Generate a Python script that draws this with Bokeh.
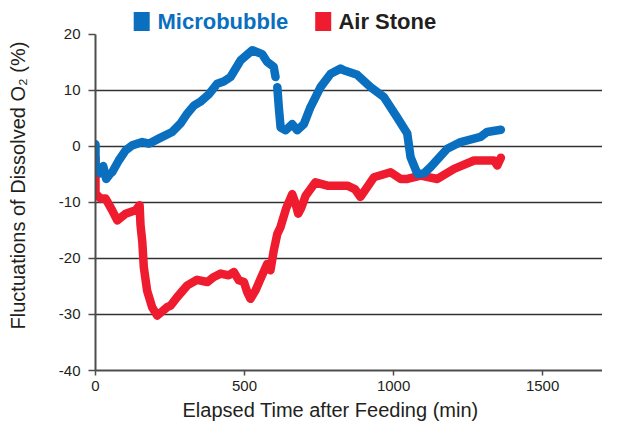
from bokeh.plotting import figure
from bokeh.models import FixedTicker, Title, PrintfTickFormatter
from bokeh.core.properties import value
from bokeh.embed import file_html
from bokeh.resources import INLINE

NaN = float("nan")

# Microbubble series (elapsed min, fluctuation %)
mb_time = [0, 0, 0, 5, 17, 26, 36, 50, 56, 78, 101, 123, 157, 179, 212, 257, 285, 308,
           330, 352, 380, 408, 430, 453, 487, 526, 559, 576, 598, 604, NaN,
           610, 615, 621, 638, 660, 677, 699, 721, 755, 789, 822, 833, 878, 923, 968,
           1012, 1046, 1057, 1080, 1102, 1124, 1180, 1225, 1292, 1314, 1360]
mb_value = [0.4, -1.6, -3.7, -4.2, -4.8, -3.5, -5.8, -4.8, -4.6, -2.5, -0.7, 0.2, 0.8, 0.5, 1.4, 2.6, 4.1, 5.9,
            7.3, 8.0, 9.3, 11.2, 11.6, 12.4, 15.4, 17.2, 16.5, 15.1, 14.2, 12.4, NaN,
            10.6, 7.0, 3.4, 2.9, 4.0, 2.9, 4.0, 7.0, 10.6, 13.0, 13.9, 13.6, 12.8, 10.6, 8.8,
            5.2, 2.3, -1.9, -4.9, -4.8, -3.7, -0.4, 0.8, 1.7, 2.6, 3.0]

# Air Stone series (elapsed min, fluctuation %)
as_time = [0, 0, 0, 17, 34, 56, 73, 101, 134, 148, 151, 157, 162, 173, 190, 207, 240, 252,
           274, 308, 341, 375, 397, 420, 447, 464, 481, 498, 509, 520, 537, 554, 576, 587,
           598, 610, 620, 640, 660, 670, 680, 690, 705, 738, 778, 845, 870, 889, 934, 990,
           1024, 1046, 1091, 1147, 1203, 1270, 1337, 1348, 1360]
as_value = [-2.0, -5.5, -8.4, -9.3, -9.3, -11.4, -13.2, -12.0, -11.4, -10.5, -14.0, -17.0, -21.5, -25.7, -28.7, -30.2, -28.7, -28.4,
            -26.9, -24.8, -23.8, -24.2, -23.3, -22.7, -23.0, -22.4, -23.9, -24.2, -26.0, -27.2, -25.7, -23.6, -21.0, -22.1,
            -18.6, -15.6, -14.5, -11.0, -8.5, -10.0, -12.0, -11.0, -8.8, -6.4, -7.0, -7.0, -7.6, -9.0, -5.5, -4.6,
            -5.8, -5.8, -5.2, -5.8, -4.0, -2.5, -2.5, -3.4, -2.0]

series_names = ["Microbubble", "Air Stone"]
series_colors = ["#0A6FBF", "#EE1C2E"]
series_text_colors = ["#0A6FBF", "#231F20"]

x_ticks = [0, 500, 1000, 1500]
y_ticks = [-40, -30, -20, -10, 0, 10, 20]
grid_ticks = [-30, -20, -10, 0, 10]
X_MAX = 1701

FONT = "Liberation Sans"

p = figure(width=602, height=425, output_backend="svg", toolbar_location=None,
           x_range=(0, X_MAX), y_range=(-40, 26.07),
           min_border_left=95, min_border_right=0, min_border_top=0, min_border_bottom=55)
p.outline_line_color = None
p.background_fill_color = "white"
p.border_fill_color = "white"

p.line(as_time, as_value, line_color=series_colors[1], line_width=8.5,
       line_join="round", line_cap="round")
p.line(mb_time, mb_value, line_color=series_colors[0], line_width=8.5,
       line_join="round", line_cap="round")

# axes
p.yaxis.bounds = (-40, 20)
p.xaxis.ticker = FixedTicker(ticks=x_ticks)
p.yaxis.ticker = FixedTicker(ticks=y_ticks)
for ax in (p.xaxis, p.yaxis):
    ax.formatter = PrintfTickFormatter(format="%d")
    ax.axis_line_color = "#4D4D4D"
    ax.axis_line_width = 2
    ax.major_tick_line_color = "#4D4D4D"
    ax.major_tick_line_width = 1.5
    ax.major_tick_in = 0
    ax.minor_tick_line_color = None
    ax.major_label_text_font = FONT
    ax.major_label_text_font_size = "15px"
    ax.major_label_text_color = "#231F20"
p.xaxis.major_tick_out = 5
p.xaxis.major_label_standoff = 5
p.yaxis.major_tick_out = 7
p.yaxis.major_label_standoff = 8

p.yaxis.axis_label = "Fluctuations of Dissolved O\u2082 (%)"
p.yaxis.axis_label_text_font = FONT
p.yaxis.axis_label_text_font_size = "20px"
p.yaxis.axis_label_text_font_style = "normal"
p.yaxis.axis_label_text_color = "#231F20"
p.yaxis.axis_label_standoff = 27

p.xgrid.grid_line_color = None
p.ygrid.ticker = FixedTicker(ticks=grid_ticks)
p.ygrid.grid_line_color = "#333333"
p.ygrid.grid_line_width = 1.6

# x axis title (offset so that its centre matches the original)
p.add_layout(Title(text="Elapsed Time after Feeding (min)", align="left", offset=87,
                   standoff=7, text_font=FONT, text_font_size="20px",
                   text_font_style="normal", text_color="#231F20"), "below")

# legend (above the plotted area)
sq_x = [155, 764]
sq_y = [22.3, 22.3]
lab_x = [208, 815]
lab_y = [22.3, 22.3]
p.rect(sq_x, sq_y, width=16, height=19, width_units="screen", height_units="screen",
       fill_color=series_colors, line_color=None)
p.text(lab_x, lab_y, text=series_names, text_color=series_text_colors,
       text_font=value(FONT), text_font_size="22px", text_font_style="bold",
       text_baseline="middle", text_align="left")

open("out.html", "w").write(file_html(p, INLINE))
